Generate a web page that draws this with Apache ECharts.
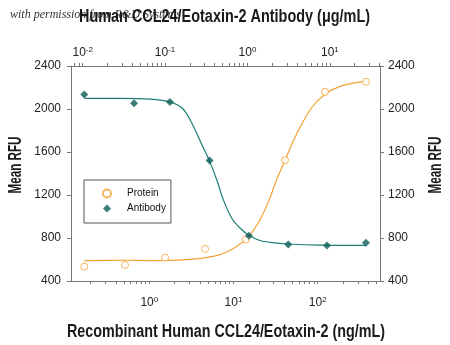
<!DOCTYPE html>
<html><head><meta charset="utf-8">
<script src="https://cdn.jsdelivr.net/npm/echarts@6/dist/echarts.min.js"></script>
<style>html,body{margin:0;padding:0;background:#fff}#c{width:450px;height:345px}</style>
</head><body><div id="c"></div>
<script>
// ---- data ----
const proteinConc = [0.169, 0.514, 1.54, 4.59, 13.96, 40.9, 122, 375];          // ng/mL (bottom axis)
const proteinRFU  = [534, 550, 618, 699, 786, 1524, 2160, 2253];
const antibodyConc = [0.01045, 0.042, 0.1146, 0.3474, 1.042, 3.126, 9.22, 27.4]; // ug/mL (top axis)
const antibodyRFU  = [2136, 2054, 2064, 1522, 821, 739, 730, 755];
// fitted curves
const proteinFitConc = [0.169, 0.539, 1.02, 2.53, 6.31, 10.9, 15.7, 20.6, 26.6, 32.6, 40.9, 51.3, 64.6, 84.9, 122.2, 184, 265, 375];
const proteinFitRFU  = [590, 593, 590, 596, 636, 721, 830, 970, 1157, 1344, 1524, 1702, 1858, 2014, 2138, 2210, 2241, 2257];
const antibodyFitConc = [0.01045, 0.0284, 0.0656, 0.1146, 0.1663, 0.2198, 0.278, 0.3436, 0.4227, 0.5082, 0.6427, 0.811, 1.052, 1.419, 1.876, 3.104, 7.59, 27.4];
const antibodyFitRFU  = [2098, 2098, 2092, 2066, 1998, 1842, 1671, 1522, 1344, 1157, 986, 893, 824, 777, 760, 744, 734, 732];
const bottomLabels = [1, 10, 100];
const topLabels = [0.01, 0.1, 1, 10];
const bottomRange = [0.1175, 549.6];
const topRange = [0.00721, 40.6];

const FONT = "'Liberation Sans', Arial, sans-serif";
const ORANGE = '#F2A233', TEAL = '#1C7D75', TEAL_D = '#0E5E57', AXIS = '#777';

function minorTicks(r) {
  const out = [];
  for (let e = -4; e <= 4; e++) for (let k = 1; k <= 9; k++) {
    const v = k * Math.pow(10, e);
    if (v >= r[0] && v <= r[1]) out.push(v);
  }
  return out;
}
const pairs = (xs, ys) => xs.map((x, i) => [x, ys[i]]);
const powLabel = v => '10{s|' + Math.round(Math.log10(v)) + '}';
const tickLabelStyle = {
  fontFamily: FONT, fontSize: 12, color: '#222',
  rich: { s: { fontFamily: FONT, fontSize: 8, verticalAlign: 'top', color: '#222', padding: [0, 0, 6, 0] } }
};

// condensed title text: squeeze the bold face horizontally to the reference width
const mctx = document.createElement('canvas').getContext('2d');
function squeezed(text, size, targetW, x, y, rot) {
  mctx.font = 'bold ' + size + "px 'Liberation Sans', Arial, sans-serif";
  const w = mctx.measureText(text).width;
  return { type: 'text', x: x, y: y, rotation: rot || 0, scaleX: targetW / w, z: 10,
    style: { text: text, fontFamily: FONT, fontSize: size, fontWeight: 'bold', fill: '#1a1a1a',
             align: 'center', verticalAlign: 'middle' } };
}

const chart = echarts.init(document.getElementById('c'), null, { renderer: 'canvas' });
chart.setOption({
  animation: false,
  grid: { left: 71, right: 70, top: 66, bottom: 64 },
  xAxis: [
    { type: 'log', position: 'bottom', min: bottomRange[0], max: bottomRange[1],
      axisLine: { lineStyle: { color: AXIS } },
      axisTick: { customValues: minorTicks(bottomRange), length: 3, lineStyle: { color: AXIS } },
      axisLabel: Object.assign({ customValues: bottomLabels, formatter: powLabel, margin: 15 }, tickLabelStyle),
      splitLine: { show: false }, minorTick: { show: false } },
    { type: 'log', position: 'top', min: topRange[0], max: topRange[1],
      axisLine: { lineStyle: { color: AXIS } },
      axisTick: { customValues: minorTicks(topRange), length: 3, lineStyle: { color: AXIS } },
      axisLabel: Object.assign({ customValues: topLabels, formatter: powLabel, margin: 6 }, tickLabelStyle),
      splitLine: { show: false }, minorTick: { show: false } }
  ],
  yAxis: [
    { type: 'value', position: 'left', min: 400, max: 2400, interval: 400,
      axisLine: { show: true, lineStyle: { color: AXIS } },
      axisTick: { show: true, length: 4, lineStyle: { color: AXIS } },
      axisLabel: { fontFamily: FONT, fontSize: 12, color: '#222', margin: 10, formatter: v => String(v) },
      splitLine: { show: false } },
    { type: 'value', position: 'right', min: 400, max: 2400, interval: 400,
      axisLine: { show: true, lineStyle: { color: AXIS } },
      axisTick: { show: true, length: 4, lineStyle: { color: AXIS } },
      axisLabel: { fontFamily: FONT, fontSize: 12, color: '#222', margin: 8, formatter: v => String(v) },
      splitLine: { show: false } }
  ],
  legend: {
    left: 84, top: 180, orient: 'vertical',
    data: ['Protein', 'Antibody'],
    itemWidth: 8, itemHeight: 8, itemGap: 2,
    padding: [7, 5, 8, 18],
    borderColor: '#555', borderWidth: 1,
    textStyle: { fontFamily: FONT, fontSize: 10, color: '#111', lineHeight: 13, padding: [0, 0, 0, 11] }
  },
  series: [
    { name: 'Protein fit', type: 'line', xAxisIndex: 0, yAxisIndex: 0, data: pairs(proteinFitConc, proteinFitRFU),
      smooth: 0.3, showSymbol: false, symbol: 'none', lineStyle: { color: ORANGE, width: 1.2 }, z: 2 },
    { name: 'Antibody fit', type: 'line', xAxisIndex: 1, yAxisIndex: 0, data: pairs(antibodyFitConc, antibodyFitRFU),
      smooth: 0.3, showSymbol: false, symbol: 'none', lineStyle: { color: TEAL, width: 1.2 }, z: 2 },
    { name: 'Protein', type: 'scatter', xAxisIndex: 0, yAxisIndex: 0, data: pairs(proteinConc, proteinRFU),
      symbol: 'circle', symbolSize: 7, itemStyle: { color: '#fff', borderColor: ORANGE, borderWidth: 1 }, z: 3 },
    { name: 'Antibody', type: 'scatter', xAxisIndex: 1, yAxisIndex: 0, data: pairs(antibodyConc, antibodyRFU),
      symbol: 'diamond', symbolSize: 8, itemStyle: { color: TEAL_D }, z: 4 }
  ],
  graphic: [
    { type: 'text', left: 10, top: 9, z: 1,
      style: { text: 'with permission from R&D Systems', font: "italic 12px 'Liberation Serif', serif", fill: '#333' } },
    squeezed('Human CCL24/Eotaxin-2 Antibody (\u03bcg/mL)', 18, 291, 224.5, 17),
    squeezed('Recombinant Human CCL24/Eotaxin-2 (ng/mL)', 18, 318, 226, 332),
    squeezed('Mean RFU', 18, 57, 16, 165, Math.PI / 2),
    squeezed('Mean RFU', 18, 57, 436, 165, Math.PI / 2)
  ]
});
</script></body></html>
